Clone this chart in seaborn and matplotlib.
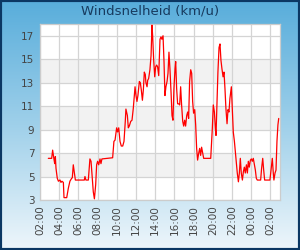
import numpy as np
import pandas as pd
import matplotlib
matplotlib.use("Agg")
import matplotlib.pyplot as plt
import matplotlib.dates as mdates
from matplotlib.colors import LinearSegmentedColormap
import seaborn as sns

# windsnelheid per tijdstip (start 02:00 dag 1, eind 03:00 dag 2)
tijden = [
    "02:52", "03:13", "03:19", "03:27", "03:32", "03:36", "03:40", "03:48", "03:55", "04:05",
    "04:11", "04:17", "04:26", "04:30", "04:47", "04:57", "05:07", "05:18", "05:22", "05:28",
    "05:35", "05:41", "06:37", "06:41", "06:47", "07:02", "07:12", "07:19", "07:27", "07:33",
    "07:40", "07:48", "07:54", "08:00", "08:07", "08:15", "08:21", "08:27", "09:34", "09:42",
    "09:49", "09:59", "10:05", "10:12", "10:20", "10:28", "10:37", "10:45", "10:53", "10:57",
    "11:06", "11:12", "11:18", "11:27", "11:35", "11:43", "11:54", "12:00", "12:06", "12:12",
    "12:21", "12:27", "12:33", "12:40", "12:46", "12:52", "12:58", "13:02", "13:09", "13:13",
    "13:19", "13:27", "13:34", "13:40", "13:44", "13:50", "13:57", "14:03", "14:09", "14:15",
    "14:22", "14:30", "14:36", "14:42", "14:49", "14:55", "15:01", "15:07", "15:14", "15:20",
    "15:26", "15:32", "15:39", "15:45", "15:51", "15:57", "16:04", "16:08", "16:14", "16:20",
    "16:27", "16:33", "16:39", "16:45", "16:52", "16:58", "17:04", "17:10", "17:17", "17:23",
    "17:29", "17:35", "17:42", "17:48", "17:54", "18:00", "18:07", "18:13", "18:19", "18:25",
    "18:32", "18:38", "18:44", "18:50", "18:57", "19:03", "19:47", "19:57", "20:03", "20:10",
    "20:16", "20:20", "20:26", "20:32", "20:39", "20:45", "20:51", "20:57", "21:04", "21:10",
    "21:16", "21:22", "21:29", "21:35", "21:41", "21:47", "21:56", "22:02", "22:08", "22:15",
    "22:21", "22:27", "22:33", "22:40", "22:46", "22:52", "22:58", "23:05", "23:11", "23:17",
    "23:23", "23:30", "23:36", "23:42", "23:48", "23:55", "00:01", "00:07", "00:13", "00:20",
    "00:26", "00:32", "00:38", "00:59", "01:05", "01:12", "01:18", "01:24", "01:57", "02:04",
    "02:12", "02:18", "02:22", "02:29", "02:35", "02:41", "02:47", "02:52",
]
snelheid = [
    6.55, 6.55, 7.25, 6.5, 6.1, 6.7, 5.7, 4.85, 4.6, 4.7,
    4.5, 4.6, 4.5, 3.2, 3.2, 4.0, 4.6, 4.85, 4.9, 6.0,
    5.3, 4.7, 4.7, 5.0, 4.7, 4.7, 6.5, 6.3, 4.85, 3.7,
    3.1, 4.3, 6.0, 6.3, 6.0, 6.5, 6.1, 6.5, 6.6, 8.0,
    8.1, 9.15, 8.8, 9.15, 8.0, 7.6, 7.6, 8.0, 9.7, 10.75,
    10.2, 9.15, 9.3, 9.7, 9.8, 10.8, 12.65, 11.9, 11.4, 11.9,
    13.1, 13.0, 12.4, 11.5, 12.4, 13.9, 13.7, 13.0, 12.65, 13.2,
    13.35, 14.1, 15.3, 17.9, 17.0, 15.05, 13.5, 14.35, 14.5, 14.35,
    13.6, 16.7, 16.9, 16.7, 17.0, 14.8, 11.9, 12.65, 13.1, 13.8,
    15.6, 14.2, 12.2, 10.2, 9.8, 12.5, 14.2, 14.8, 12.5, 11.2,
    11.2, 11.1, 12.65, 11.1, 9.7, 9.3, 9.8, 9.3, 10.2, 10.5,
    9.95, 13.1, 14.1, 13.8, 11.4, 10.4, 10.7, 9.4, 7.4, 6.4,
    7.0, 7.4, 6.8, 7.5, 7.0, 6.55, 6.55, 9.1, 11.1, 10.5,
    9.1, 8.5, 11.1, 13.9, 16.0, 16.3, 14.9, 14.2, 13.5, 13.9,
    12.5, 10.8, 9.5, 10.7, 10.5, 11.65, 12.65, 10.8, 8.8, 8.0,
    7.1, 6.3, 5.3, 4.55, 5.3, 6.55, 5.3, 4.7, 5.4, 5.8,
    5.3, 6.0, 5.3, 6.3, 5.8, 6.4, 6.5, 6.3, 6.55, 6.0,
    5.55, 4.85, 4.7, 4.7, 5.7, 6.55, 5.55, 4.7, 4.7, 5.55,
    6.55, 5.3, 4.7, 5.3, 5.55, 8.0, 9.4, 9.95,
]
y_ticks = [3, 5, 7, 9, 11, 13, 15, 17]
banden = [(5, 7), (9, 11), (13, 15)]

# tijden omzetten naar datetime, na middernacht een dag verder
tijdstempels = []
dag = pd.Timestamp("2024-01-01")
vorige = None
for t in tijden:
    ts = dag + pd.Timedelta(hours=int(t[:2]), minutes=int(t[3:]))
    if vorige is not None and ts < vorige:
        dag = dag + pd.Timedelta(days=1)
        ts = ts + pd.Timedelta(days=1)
    tijdstempels.append(ts)
    vorige = ts
df = pd.DataFrame({"tijd": tijdstempels, "snelheid": snelheid})

sns.set_style("white")
plt.rcParams["font.family"] = ["DejaVu Sans"]

fig = plt.figure(figsize=(3, 2.5), dpi=100)

# achtergrond met verloop
bg = fig.add_axes([0, 0, 1, 1], zorder=-10)
cmap = LinearSegmentedColormap.from_list("bg", ["#58addb", "#9fd0ea", "#eef6fb"])
bg.imshow(np.linspace(0, 1, 256).reshape(-1, 1), aspect="auto", cmap=cmap,
          extent=[0, 1, 0, 1])
bg.add_patch(plt.Rectangle((0, 0), 1, 1, fill=False, edgecolor="#0b3763",
                           linewidth=3, transform=bg.transAxes))
bg.set_axis_off()

ax = fig.add_axes([40 / 300, 50 / 250, 240 / 300, 176 / 250])
ax.set_facecolor("white")
for lo, hi in banden:
    ax.axhspan(lo, hi, color="#f2f2f2", zorder=0, lw=0)

sns.lineplot(data=df, x="tijd", y="snelheid", ax=ax, color="red", linewidth=0.9,
             zorder=3)

ax.set_ylim(3, 18)
ax.set_yticks(y_ticks)
ax.set_xlim(pd.Timestamp("2024-01-01 02:00"), pd.Timestamp("2024-01-02 03:00"))
ax.xaxis.set_major_locator(mdates.HourLocator(byhour=range(0, 24, 2)))
ax.xaxis.set_major_formatter(mdates.DateFormatter("%H:%M"))
ax.grid(True, color="#d4d4d4", linewidth=0.9)
ax.set_axisbelow(True)
ax.tick_params(axis="both", length=0, colors="#444444", labelsize=7.5, pad=4)
ax.tick_params(axis="x", rotation=90)
for s in ax.spines.values():
    s.set_color("#cccccc")
    s.set_linewidth(0.9)
ax.set_xlabel("")
ax.set_ylabel("")

fig.text(0.5, 0.955, "Windsnelheid (km/u)", ha="center", va="center",
         fontsize=9.5, color="#173a5e")

fig.savefig("out.png", dpi=100)
